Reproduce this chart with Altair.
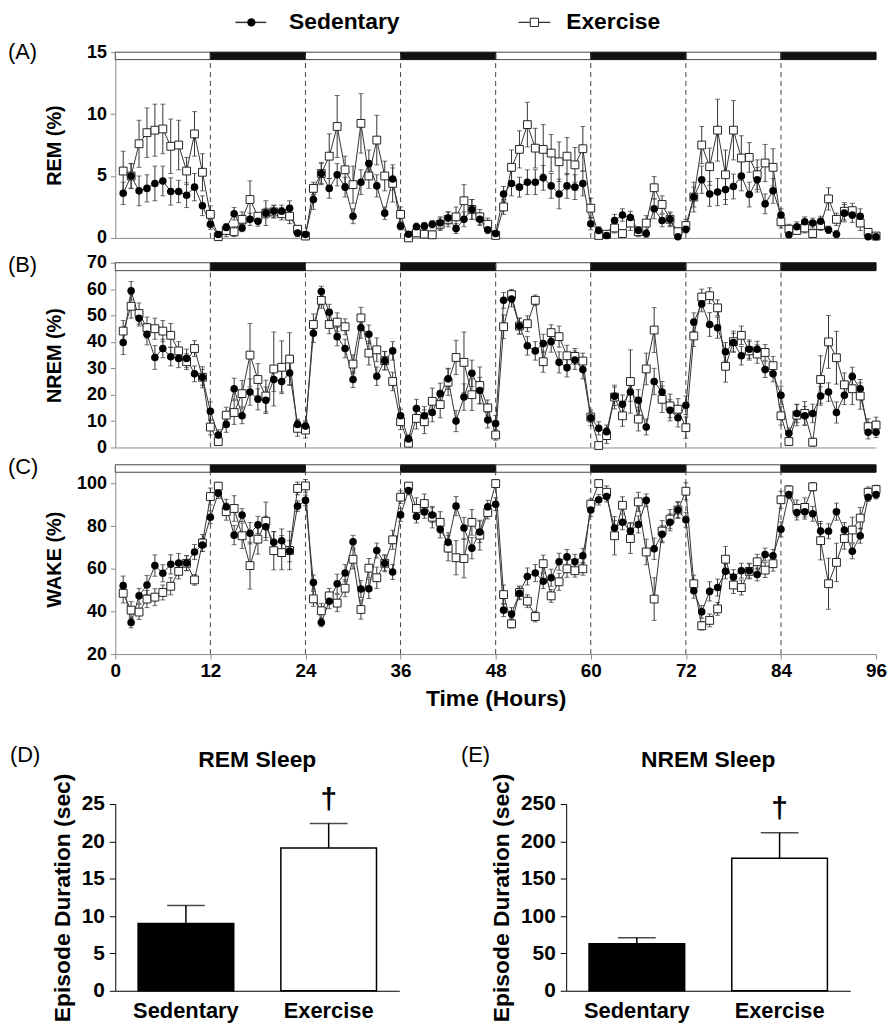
import altair as alt
import pandas as pd

FONT = "Liberation Sans"
LINE = "#333333"
AXIS_GRAY = "#8a8a8a"

hours = list(range(1, 97))
groups = ["Sedentary", "Exercise"]

# ---------------- REM (%) ----------------
sed_rem = [3.6, 5.0, 3.8, 4.0, 4.4, 4.6, 3.75, 3.75, 3.45, 4.1, 2.6, 1.1,
           0.27, 0.85, 1.95, 0.8, 1.5, 1.35, 2.0, 2.15, 2.15, 2.4, 0.4, 0.27,
           3.1, 5.2, 4.0, 5.1, 4.1, 1.75, 4.5, 6.0, 4.2, 2.0, 4.75, 0.95,
           0.3, 0.9, 0.95, 1.1, 1.2, 1.6, 0.75, 1.5, 2.3, 1.5, 0.65, 0.35,
           3.55, 4.4, 4.1, 4.5, 4.5, 4.85, 4.2, 3.55, 4.2, 4.1, 4.4, 1.15,
           0.6, 0.2, 1.4, 1.85, 1.65, 0.6, 0.35, 2.35, 1.4, 1.5, 0.1, 0.7,
           3.3, 4.7, 3.55, 3.7, 3.9, 4.15, 5.0, 3.5, 4.7, 2.75, 3.8, 1.85,
           0.25, 0.9, 1.3, 1.2, 1.35, 0.65, 0.3, 2.0, 1.85, 1.75, 0.1, 0.1]
ex_rem = [5.4, 5.0, 7.6, 8.5, 8.7, 8.8, 7.4, 7.5, 5.4, 8.4, 5.3, 1.9,
          0.1, 0.6, 0.5, 1.5, 3.1, 1.75, 2.0, 2.1, 1.95, 1.75, 0.7, 0.15,
          4.0, 5.2, 6.6, 9.0, 5.5, 4.3, 9.25, 5.0, 7.9, 5.0, 4.4, 1.9,
          0.0, 0.4, 0.3, 0.25, 1.1, 1.5, 1.7, 3.0, 2.3, 1.7, 1.1, 0.2,
          2.5, 5.7, 7.15, 9.15, 7.25, 7.15, 6.85, 6.15, 6.6, 5.9, 7.2, 2.4,
          0.2, 0.3, 0.8, 0.35, 1.2, 0.5, 1.2, 4.05, 2.7, 1.5, 0.5, 1.0,
          3.3, 7.5, 5.75, 8.7, 5.1, 8.7, 6.45, 6.5, 5.1, 6.05, 5.7, 1.3,
          0.7, 0.6, 0.8, 0.35, 1.0, 3.15, 1.5, 2.15, 2.2, 1.2, 0.45, 0.15]
sed_rem_se = [0.9, 1.0, 1.2, 1.1, 1.4, 1.2, 1.1, 0.9, 1.0, 1.1, 0.8, 0.4,
              0.2, 0.3, 0.5, 0.3, 0.5, 0.4, 1.0, 0.5, 0.5, 0.6, 0.3, 0.2,
              0.8, 0.9, 0.8, 0.9, 0.8, 0.6, 1.0, 1.1, 0.9, 0.5, 0.9, 0.3,
              0.2, 0.3, 0.3, 0.3, 0.5, 0.5, 0.4, 0.6, 0.8, 0.5, 0.3, 0.2,
              0.6, 1.0, 0.8, 1.0, 1.0, 1.0, 1.0, 1.2, 1.0, 1.0, 1.0, 0.5,
              0.3, 0.2, 0.5, 0.5, 0.5, 0.3, 0.3, 0.8, 0.5, 0.5, 0.2, 0.3,
              0.8, 1.1, 1.0, 1.1, 1.2, 1.0, 1.2, 1.0, 1.0, 0.8, 1.0, 0.5,
              0.2, 0.4, 0.4, 0.4, 0.4, 0.3, 0.3, 0.7, 0.6, 0.6, 0.2, 0.2]
ex_rem_se = [1.6, 1.0, 1.9, 2.0, 2.1, 2.0, 2.2, 2.0, 1.1, 1.8, 1.5, 0.7,
             0.1, 0.5, 0.4, 0.6, 1.5, 0.3, 0.4, 0.5, 0.5, 0.6, 0.3, 0.1,
             0.5, 0.8, 1.8, 2.5, 1.1, 1.5, 2.4, 1.0, 2.0, 1.2, 1.5, 0.6,
             0.1, 0.3, 0.3, 0.3, 0.5, 0.6, 0.8, 1.3, 0.8, 0.6, 0.5, 0.1,
             0.6, 1.4, 1.5, 1.8, 1.6, 2.0, 1.5, 1.6, 1.5, 1.4, 1.8, 0.8,
             0.2, 0.3, 0.4, 0.3, 0.6, 0.4, 0.6, 0.9, 0.7, 0.6, 0.3, 0.5,
             1.2, 1.5, 1.5, 2.5, 2.0, 2.4, 1.8, 1.2, 1.2, 1.5, 1.5, 0.5,
             0.4, 0.3, 0.4, 0.3, 0.4, 0.9, 0.5, 0.7, 0.6, 0.6, 0.3, 0.2]

# ---------------- NREM (%) ----------------
sed_nrem = [39.75, 59.4, 49, 42.9, 34.1, 37.5, 34.4, 33.75, 33.75, 27.9, 26.6, 13.75,
            4.75, 8.75, 22.25, 12, 21, 18.25, 17.9, 25.75, 25, 28.25, 8.75, 8.1,
            43.25, 59.1, 51.25, 42, 37.5, 25.75, 45.4, 42.9, 27, 32.9, 36.6, 12,
            3.25, 14.75, 12, 13.25, 20.4, 26, 10, 19.1, 28.1, 21.6, 10.4, 9.1,
            55.75, 56.25, 46, 38.5, 36.6, 39.4, 40.1, 32.25, 30.25, 33.1, 29.5, 11.25,
            7.25, 6, 19.4, 16.4, 21, 17.9, 7.75, 25, 21, 14.1, 11.25, 16,
            47.5, 54.4, 46.6, 45.4, 36.25, 39.75, 34.75, 37.25, 37.25, 29.5, 27.9, 19.75,
            5.4, 12.9, 12, 12.9, 19.5, 21, 13.25, 19.75, 26.9, 22.25, 5.75, 5.75]
ex_nrem = [44.1, 53.5, 50.75, 45.4, 45, 44.1, 42.5, 36.6, 32.5, 37.5, 26.6, 7.75,
           2.25, 12.25, 13.25, 20.4, 35, 25.75, 19.5, 29.75, 30.4, 33.5, 7.25, 6.6,
           46.6, 55.75, 46.6, 47.5, 45.75, 31.6, 49.1, 35.75, 37, 32.9, 25, 9.75,
           1.6, 11, 9.75, 17.5, 16.25, 24.75, 34.1, 32.25, 20, 23.5, 15, 4.75,
           45.75, 57.9, 46, 46.9, 55.75, 32.5, 43.5, 42, 34.75, 34.5, 32.75, 11.5,
           0.75, 4.5, 19.1, 12, 25, 10.75, 29.75, 44.5, 18.25, 15.75, 14.5, 7.5,
           42.25, 57, 57.5, 52.9, 30.75, 40.1, 42.5, 36.6, 35.4, 36, 31, 12,
           2.25, 12.25, 12.9, 2, 25.75, 40, 34, 23.75, 22.25, 19.5, 7.9, 8.5]
sed_nrem_se = [4.5, 3.5, 3.0, 4.0, 4.5, 3.5, 3.5, 3.5, 3.5, 3.0, 3.0, 3.5,
               2.0, 3.0, 4.0, 3.0, 5.0, 4.0, 5.0, 4.5, 4.0, 4.5, 2.0, 2.0,
               3.5, 2.0, 3.0, 3.5, 3.5, 3.0, 4.0, 3.5, 3.5, 3.5, 3.5, 2.5,
               1.5, 3.5, 3.5, 3.5, 4.0, 4.0, 4.0, 5.0, 5.0, 5.0, 3.0, 3.0,
               3.0, 3.0, 3.0, 3.5, 3.5, 3.5, 4.0, 4.0, 3.5, 3.5, 3.5, 3.0,
               2.5, 2.5, 3.5, 3.5, 3.5, 4.0, 3.0, 5.0, 4.0, 4.0, 3.5, 3.5,
               3.5, 3.0, 4.5, 4.0, 3.5, 3.5, 3.5, 3.5, 3.0, 3.0, 3.0, 3.5,
               2.0, 3.5, 3.5, 3.5, 3.5, 3.5, 4.0, 3.5, 3.5, 3.5, 2.5, 2.0]
ex_nrem_se = [4.0, 4.5, 4.0, 4.0, 4.0, 4.0, 4.5, 3.5, 3.0, 3.0, 4.0, 3.0,
              1.0, 3.0, 4.5, 5.0, 12.0, 6.0, 6.0, 14.0, 10.0, 10.0, 3.0, 3.0,
              4.0, 3.0, 3.5, 3.5, 3.0, 3.5, 4.0, 4.5, 4.5, 3.5, 3.5, 3.0,
              1.0, 4.0, 4.5, 5.0, 5.0, 5.0, 6.5, 11.5, 6.0, 7.0, 3.0, 2.0,
              4.5, 2.0, 3.0, 3.0, 2.0, 4.0, 3.0, 4.0, 4.0, 3.0, 3.0, 2.0,
              0.8, 3.0, 4.5, 4.0, 12.0, 4.5, 6.0, 8.5, 5.0, 4.5, 4.0, 4.0,
              4.0, 3.0, 3.0, 3.0, 6.0, 4.0, 3.5, 3.5, 3.5, 3.0, 3.5, 3.5,
              1.5, 4.0, 4.5, 1.5, 9.0, 10.0, 10.0, 4.5, 6.0, 5.0, 3.0, 3.0]

# ---------------- WAKE (%) ----------------
sed_wake = [52.1, 34.8, 47.3, 52.4, 61.5, 57.9, 62.1, 62.7, 62.7, 67.9, 71.2, 84.2,
            95.5, 89.1, 75.8, 85.2, 76.7, 80.6, 79.7, 72.4, 73.2, 68.3, 89.4, 92.1,
            53.6, 34.8, 44.8, 53, 58, 72.7, 50.5, 50.6, 68.6, 62.6, 58.5, 85.3,
            96.7, 84.5, 86.7, 85.2, 78.5, 72.4, 89.4, 79.1, 69.7, 77.3, 89.1, 90.3,
            40.6, 38.8, 48.5, 56.4, 58, 54.2, 55.8, 63.3, 65.6, 63.3, 66.1, 87.6,
            92.4, 93.9, 79.1, 81.8, 77.7, 80.8, 92.1, 69.4, 76.2, 81.8, 87.6, 83,
            49.7, 39.8, 49.4, 51.2, 58.8, 56.1, 59.1, 59.1, 57.3, 66.7, 66.1, 78.5,
            94.8, 86.4, 86.8, 85.8, 77.7, 77.6, 86.8, 78.2, 68.2, 75.5, 93.6, 94.8]
ex_wake = [48.5, 40.6, 39.7, 45.8, 46.7, 48.9, 51.8, 58.8, 62.6, 54.8, 72.1, 93.9,
           98.8, 86.8, 88.3, 75.5, 61.5, 73.9, 82.3, 68.5, 67.6, 68.6, 97.7, 98.9,
           45.9, 40.3, 47.3, 43.9, 50.9, 64.5, 40.9, 60.3, 55.8, 62.6, 73.6, 93.6,
           98.8, 88.3, 90.6, 84.2, 81.8, 69.7, 65.2, 64.8, 81.8, 75.8, 86.4, 100,
           47.9, 34.2, 48.9, 44.8, 37.6, 62.4, 47.3, 53.9, 60, 59.1, 60, 90.3,
           100, 95.9, 75.5, 89.8, 74.2, 91.4, 67.9, 45.8, 77.7, 83.3, 87.6, 96.4,
           53, 33.3, 35.8, 41.2, 64.5, 52.4, 51.2, 58.8, 63.3, 59.4, 62.4, 92.4,
           97, 88.3, 88.8, 98.5, 73.2, 53, 63, 74.2, 78.2, 83.8, 95.9, 97.2]
sed_wake_se = [4.5, 2.5, 3.5, 4.5, 5.0, 4.0, 4.5, 4.5, 3.5, 3.5, 3.0, 3.0,
               2.5, 3.5, 4.5, 3.0, 5.0, 4.0, 5.0, 5.0, 5.5, 5.0, 2.5, 2.5,
               3.5, 2.0, 3.5, 4.5, 4.0, 3.0, 4.0, 4.5, 3.5, 3.5, 3.5, 3.0,
               2.0, 3.0, 3.0, 3.5, 4.0, 4.5, 4.5, 5.0, 5.0, 5.0, 3.0, 3.0,
               3.0, 3.0, 3.0, 4.0, 4.0, 3.5, 4.0, 4.0, 3.5, 3.5, 3.5, 3.0,
               2.5, 2.5, 3.5, 3.5, 4.0, 4.0, 3.0, 5.0, 4.0, 4.0, 3.5, 3.5,
               3.5, 3.0, 4.5, 4.0, 3.5, 3.5, 3.5, 3.5, 3.0, 3.0, 3.0, 3.5,
               2.0, 3.5, 3.5, 3.5, 3.5, 3.5, 4.0, 3.5, 3.5, 3.5, 2.0, 2.0]
ex_wake_se = [4.5, 4.0, 3.5, 4.0, 4.0, 3.5, 4.0, 3.5, 3.5, 2.5, 4.0, 4.0,
              1.5, 4.0, 6.0, 6.0, 11.0, 7.0, 9.0, 9.0, 8.0, 9.0, 3.0, 3.0,
              3.5, 3.5, 3.5, 4.0, 4.0, 4.5, 4.5, 4.5, 5.0, 4.0, 4.5, 3.0,
              1.0, 5.0, 4.5, 5.0, 5.0, 6.0, 8.0, 9.0, 6.0, 7.0, 3.0, 1.5,
              4.5, 2.0, 3.0, 3.0, 2.5, 4.0, 3.0, 4.0, 4.0, 3.0, 3.0, 2.5,
              1.0, 3.0, 9.0, 4.0, 7.0, 4.5, 6.0, 10.0, 5.0, 4.5, 4.0, 4.0,
              4.0, 2.0, 3.0, 3.0, 6.0, 4.0, 3.5, 3.5, 3.5, 3.5, 3.5, 4.0,
              2.0, 4.0, 4.5, 2.0, 9.0, 12.0, 9.0, 5.0, 6.0, 5.0, 2.5, 2.0]

# light/dark phases
phase_start = [0, 12, 24, 36, 48, 60, 72, 84]
phase_end = [12, 24, 36, 48, 60, 72, 84, 96]
phase_kind = ["Light", "Dark", "Light", "Dark", "Light", "Dark", "Light", "Dark"]
boundaries = [12, 24, 36, 48, 60, 72, 84]
x_ticks = [0, 12, 24, 36, 48, 60, 72, 84, 96]

# episode durations
bar_groups = ["Sedentary", "Exercise"]
bar_marks = ["", "†"]
rem_dur = [9.0, 19.1]
rem_dur_se = [2.4, 3.3]
nrem_dur = [62.9, 177.5]
nrem_dur_se = [8.0, 34.0]


def series_frame(sed, ex, sed_se, ex_se, ymin):
    rows = []
    for grp, vals, ses in (("Sedentary", sed, sed_se), ("Exercise", ex, ex_se)):
        for h, v, s in zip(hours, vals, ses):
            rows.append({"hour": h, "group": grp, "value": v,
                         "lo": max(v - s, ymin), "hi": v + s})
    return pd.DataFrame(rows)


def panel(letter, letter_y, ytitle, sed, ex, sed_se, ex_se, ydom, yticks,
          band, height, bottom_axis, legend=False):
    df = series_frame(sed, ex, sed_se, ex_se, ydom[0])
    if bottom_axis:
        xaxis = alt.Axis(values=x_ticks, title="Time (Hours)", labelFontSize=19,
                         labelFontWeight="bold", titleFontSize=23, titleFontWeight="bold",
                         tickSize=5, labelPadding=3, titlePadding=7, labelFlush=False,
                         domainColor=AXIS_GRAY, tickColor=AXIS_GRAY, grid=False)
    else:
        xaxis = alt.Axis(values=x_ticks, labels=False, ticks=False, title=None,
                         domainColor=AXIS_GRAY, grid=False)
    yaxis = alt.Axis(values=yticks, title=ytitle, titleX=-61, titleY=height / 2,
                     titleAngle=-90, titleAlign="center", titleBaseline="middle",
                     titleFontSize=20, titleFontWeight="bold", labelFontSize=18,
                     labelFontWeight="bold", tickSize=5, labelPadding=4,
                     labelFlush=False, domainColor=AXIS_GRAY, tickColor=AXIS_GRAY,
                     grid=False)
    xs = alt.Scale(domain=[0, 96], nice=False, zero=False)
    ys = alt.Scale(domain=ydom, nice=False, zero=False)

    def X(field):
        return alt.X(field, type="quantitative", scale=xs, axis=xaxis)

    def Y(field):
        return alt.Y(field, type="quantitative", scale=ys, axis=yaxis)

    phase_df = pd.DataFrame({"start": phase_start, "end": phase_end, "kind": phase_kind})
    phase_df["ylo"] = band[0]
    phase_df["yhi"] = band[1]
    pbase = alt.Chart(phase_df)
    light = pbase.transform_filter(alt.datum.kind == "Light").mark_rect(
        stroke="#444444", strokeWidth=1, fill="white").encode(
        x=X("start"), x2="end", y=Y("ylo"), y2="yhi")
    dark = pbase.transform_filter(alt.datum.kind == "Dark").mark_rect(
        stroke="#111111", strokeWidth=1, fill="#111111").encode(
        x=X("start"), x2="end", y=Y("ylo"), y2="yhi")

    bdf = pd.DataFrame({"b": boundaries})
    bdf["y0"] = ydom[0]
    bdf["y1"] = band[1]
    dashes = alt.Chart(bdf).mark_rule(color="#444444", strokeWidth=1,
                                      strokeDash=[5, 4]).encode(x=X("b"), y=Y("y0"), y2="y1")

    base = alt.Chart(df)
    err = base.mark_rule(color=LINE, strokeWidth=1).encode(x=X("hour"), y=Y("lo"), y2="hi")
    cap_hi = base.mark_tick(orient="horizontal", size=5, thickness=1, color=LINE).encode(
        x=X("hour"), y=Y("hi"))
    cap_lo = base.mark_tick(orient="horizontal", size=5, thickness=1, color=LINE).encode(
        x=X("hour"), y=Y("lo"))
    lines = base.mark_line(color=LINE, strokeWidth=1).encode(
        x=X("hour"), y=Y("value"), detail="group:N")
    ex_pts = base.transform_filter(alt.datum.group == "Exercise").mark_point(
        shape="square", filled=True, fill="white", stroke="#222222", strokeWidth=1,
        size=62, opacity=1).encode(x=X("hour"), y=Y("value"))
    sed_pts = base.transform_filter(alt.datum.group == "Sedentary").mark_point(
        shape="circle", filled=True, color="black", size=58, opacity=1).encode(
        x=X("hour"), y=Y("value"))

    lab = alt.Chart(pd.DataFrame({"label": [letter]})).mark_text(
        align="left", baseline="middle", fontSize=22, font=FONT, color="black").encode(
        x=alt.value(-108), y=alt.value(letter_y), text="label:N")

    layers = [light, dark, dashes, err, cap_hi, cap_lo, lines, ex_pts, sed_pts, lab]

    if legend:
        sd = alt.Chart(pd.DataFrame({"label": [groups[0]]}))
        ed = alt.Chart(pd.DataFrame({"label": [groups[1]]}))
        layers += [
            sd.mark_rule(color=LINE, strokeWidth=1.5).encode(
                x=alt.value(121), x2=alt.value(152), y=alt.value(-30)),
            sd.mark_point(shape="circle", filled=True, color="black", size=70, opacity=1).encode(
                x=alt.value(137), y=alt.value(-30)),
            sd.mark_text(align="left", baseline="middle", fontSize=23, fontWeight="bold",
                         font=FONT, color="black").encode(
                x=alt.value(175), y=alt.value(-30), text="label:N"),
            ed.mark_rule(color=LINE, strokeWidth=1.5).encode(
                x=alt.value(406), x2=alt.value(438), y=alt.value(-30)),
            ed.mark_point(shape="square", filled=True, fill="white", stroke="#222222",
                          strokeWidth=1, size=70, opacity=1).encode(
                x=alt.value(422), y=alt.value(-30)),
            ed.mark_text(align="left", baseline="middle", fontSize=23, fontWeight="bold",
                         font=FONT, color="black").encode(
                x=alt.value(454), y=alt.value(-30), text="label:N"),
        ]
    return alt.layer(*layers).properties(width=766, height=height)


def bar_panel(letter, title, values, ses, ydom, yticks):
    df = pd.DataFrame({"group": bar_groups, "value": values,
                       "hi": [v + s for v, s in zip(values, ses)], "mark": bar_marks})
    xaxis = alt.Axis(title=None, labelAngle=0, labelFontSize=22, labelFontWeight="bold",
                     ticks=False, domainColor="black", labelPadding=10, labelColor="black")
    yaxis = alt.Axis(values=yticks, title="Episode Duration (sec)", titleFontSize=23,
                     titleFontWeight="bold", labelFontSize=21, labelFontWeight="bold",
                     tickSize=6, labelPadding=5, titlePadding=7, domainColor="black",
                     tickColor="black", grid=False, labelFlush=False)
    xs = alt.Scale(domain=bar_groups, paddingInner=0.33, paddingOuter=0.16)
    ys = alt.Scale(domain=ydom, nice=False)
    X = alt.X("group:N", scale=xs, axis=xaxis, sort=bar_groups)

    def Y(field):
        return alt.Y(field, type="quantitative", scale=ys, axis=yaxis)

    base = alt.Chart(df)
    bar_sed = base.transform_filter(alt.datum.group == "Sedentary").mark_bar(
        stroke="black", strokeWidth=1.5, fill="black").encode(x=X, y=Y("value"))
    bar_ex = base.transform_filter(alt.datum.group == "Exercise").mark_bar(
        stroke="black", strokeWidth=1.5, fill="white").encode(x=X, y=Y("value"))
    err = base.mark_rule(color="black", strokeWidth=1.5).encode(x=X, y=Y("value"), y2="hi")
    cap = base.mark_tick(orient="horizontal", size=38, thickness=1.5, color="black").encode(
        x=X, y=Y("hi"))
    dag = base.mark_text(fontSize=30, fontWeight="bold", baseline="alphabetic", dy=-15,
                         font=FONT, color="black").encode(x=X, y=Y("hi"), text="mark:N")
    tdf = alt.Chart(pd.DataFrame({"label": [letter], "title": [title]}))
    lab = tdf.mark_text(align="left", baseline="middle", fontSize=22, font=FONT,
                        color="black").encode(x=alt.value(-106), y=alt.value(-49),
                                              text="label:N")
    ttl = tdf.mark_text(align="center", baseline="middle", fontSize=23, fontWeight="bold",
                        font=FONT, color="black").encode(x=alt.value(143), y=alt.value(-44),
                                                         text="title:N")
    return alt.layer(bar_sed, bar_ex, err, cap, dag, lab, ttl).properties(
        width=286, height=188)


pA = panel("(A)", 0, "REM (%)", sed_rem, ex_rem, sed_rem_se, ex_rem_se,
           [0, 15], [0, 5, 10, 15], [14.4, 15], 187, False, legend=True)
pB = panel("(B)", 2, "NREM (%)", sed_nrem, ex_nrem, sed_nrem_se, ex_nrem_se,
           [0, 70], [0, 10, 20, 30, 40, 50, 60, 70], [67, 70], 186, False)
pC = panel("(C)", 3, "WAKE (%)", sed_wake, ex_wake, sed_wake_se, ex_wake_se,
           [20, 109], [20, 40, 60, 80, 100], [105.3, 108.8], 191, True)

pD = bar_panel("(D)", "REM Sleep", rem_dur, rem_dur_se, [0, 25], [0, 5, 10, 15, 20, 25])
pE = bar_panel("(E)", "NREM Sleep", nrem_dur, nrem_dur_se, [0, 250],
               [0, 50, 100, 150, 200, 250])

ab = alt.vconcat(pA, pB, spacing=7)
abc = alt.vconcat(ab, pC, spacing=0)
bottom = alt.hconcat(pD, pE, spacing=62)

chart = alt.vconcat(abc, bottom, spacing=34).properties(
    padding=0
).configure(font=FONT).configure_view(stroke=None).configure_axis(
    labelFont=FONT, titleFont=FONT, labelColor="black", titleColor="black"
)

chart.save("out.html", embed_options={"renderer": "svg", "actions": False})
